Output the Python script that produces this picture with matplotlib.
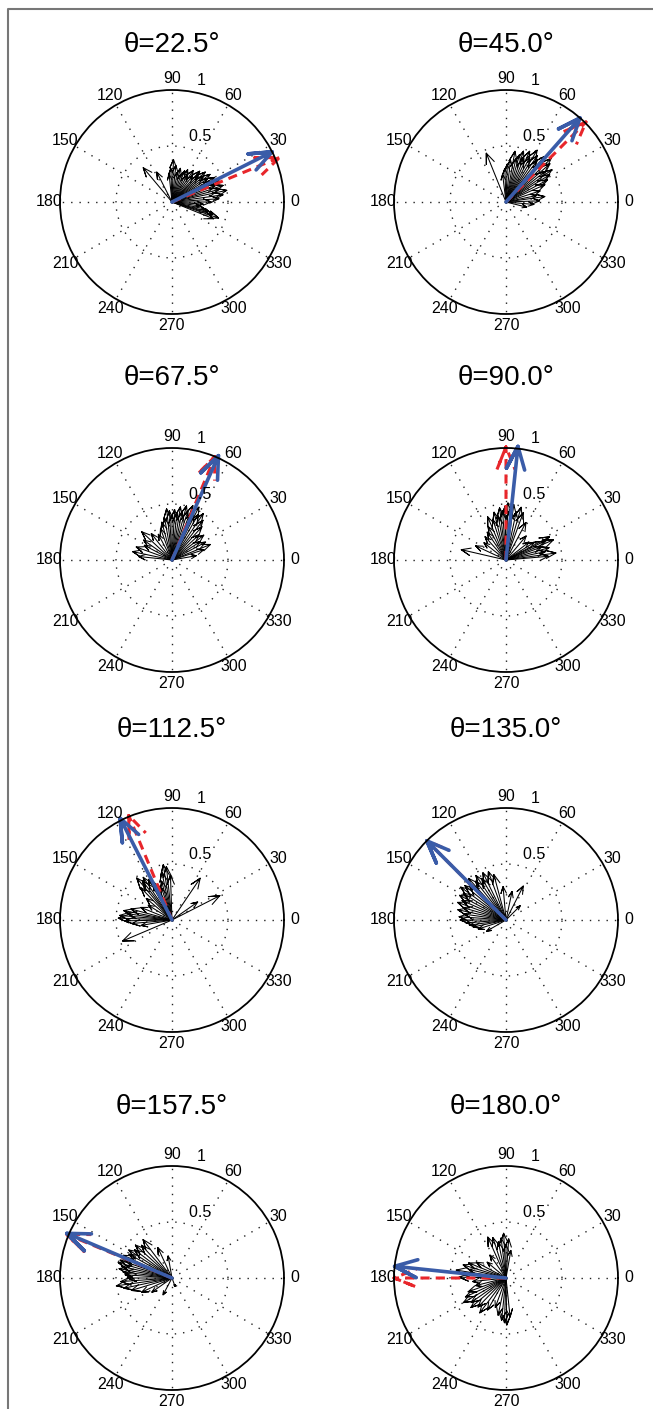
import numpy as np
import matplotlib
matplotlib.use("Agg")
import matplotlib.pyplot as plt
from matplotlib.lines import Line2D

plt.rcParams["font.family"] = ["Liberation Sans", "DejaVu Sans"]

titles = ["θ=22.5°", "θ=45.0°", "θ=67.5°", "θ=90.0°",
          "θ=112.5°", "θ=135.0°", "θ=157.5°", "θ=180.0°"]

# ── single-cell vectors (direction in deg, length) per panel ──
ang_225 = [-22, -19, -17, -15, -12, -8, -4, 0, 4, 8, 12, 15, 18, 21, 24, 27, 30, 33, 36,
           39, 42, 45, 48, 52, 56, 60, 64, 68, 72, 76, 80, 84, 88, 92, 96, 117, 130]
len_225 = [0.40, 0.44, 0.38, 0.33, 0.30, 0.25, 0.28, 0.35, 0.42, 0.46, 0.50, 0.44, 0.48,
           0.42, 0.46, 0.40, 0.44, 0.38, 0.42, 0.36, 0.40, 0.33, 0.37, 0.30, 0.34, 0.28,
           0.32, 0.30, 0.26, 0.31, 0.27, 0.33, 0.38, 0.30, 0.25, 0.30, 0.40]

ang_450 = [-14, -5, 2, 8, 12, 18, 24, 28, 32, 35, 38, 41, 44, 47, 50, 53, 56, 59, 62, 65,
           68, 71, 74, 77, 80, 84, 88, 92, 97, 112]
len_450 = [0.19, 0.25, 0.30, 0.35, 0.28, 0.32, 0.38, 0.42, 0.46, 0.50, 0.44, 0.52, 0.56,
           0.48, 0.53, 0.46, 0.50, 0.54, 0.45, 0.50, 0.42, 0.48, 0.44, 0.40, 0.46, 0.38,
           0.34, 0.30, 0.25, 0.47]

ang_675 = [10, 18, 22, 28, 33, 38, 43, 48, 52, 56, 60, 63, 66, 69, 72, 75, 78, 81, 84, 87,
           90, 93, 96, 100, 105, 110, 118, 128, 137, 145, 152, 160, 168, 174]
len_675 = [0.22, 0.30, 0.37, 0.34, 0.30, 0.36, 0.33, 0.40, 0.45, 0.50, 0.47, 0.53, 0.48,
           0.52, 0.46, 0.50, 0.44, 0.48, 0.42, 0.45, 0.40, 0.44, 0.46, 0.38, 0.35, 0.30,
           0.26, 0.30, 0.37, 0.31, 0.28, 0.34, 0.36, 0.30]

ang_900 = [5, 8, 12, 16, 20, 23, 26, 28, 32, 38, 50, 62, 70, 74, 78, 82, 85, 88, 91, 94,
           97, 100, 104, 108, 113, 118, 124, 132, 142, 155, 167]
len_900 = [0.38, 0.45, 0.36, 0.40, 0.34, 0.46, 0.38, 0.44, 0.30, 0.26, 0.28, 0.38, 0.45,
           0.49, 0.44, 0.50, 0.46, 0.51, 0.48, 0.44, 0.47, 0.40, 0.44, 0.38, 0.42, 0.34,
           0.30, 0.28, 0.25, 0.30, 0.41]

ang_1125 = [27, 35, 56, 92, 96, 99, 102, 105, 108, 112, 116, 120, 124, 127, 130, 134, 140,
            148, 158, 165, 169, 172, 175, 178, 181, 185, 190, 203]
len_1125 = [0.48, 0.28, 0.45, 0.40, 0.48, 0.50, 0.44, 0.36, 0.30, 0.34, 0.38, 0.42, 0.46,
            0.44, 0.49, 0.40, 0.30, 0.25, 0.30, 0.38, 0.44, 0.40, 0.47, 0.48, 0.42, 0.36,
            0.28, 0.48]

ang_1350 = [45, 63, 78, 95, 105, 110, 116, 120, 124, 128, 132, 136, 140, 144, 148, 152,
            156, 160, 164, 168, 172, 176, 180, 184, 188, 192, 198, 210]
len_1350 = [0.18, 0.34, 0.26, 0.30, 0.42, 0.46, 0.47, 0.43, 0.48, 0.44, 0.50, 0.46, 0.48,
            0.50, 0.45, 0.47, 0.43, 0.46, 0.40, 0.44, 0.38, 0.42, 0.41, 0.36, 0.33, 0.30,
            0.26, 0.20]

ang_1575 = [100, 115, 127, 133, 138, 143, 147, 151, 155, 158, 161, 164, 167, 170, 173,
            176, 180, 184, 188, 192, 197, 205, 215, 242, 290]
len_1575 = [0.20, 0.30, 0.43, 0.40, 0.44, 0.42, 0.46, 0.44, 0.48, 0.47, 0.49, 0.50, 0.46,
            0.48, 0.44, 0.42, 0.40, 0.46, 0.50, 0.44, 0.38, 0.30, 0.22, 0.17, 0.08]

ang_1800 = [80, 86, 90, 93, 97, 102, 108, 114, 125, 140, 152, 158, 163, 167, 171, 175, 179,
            186, 194, 200, 205, 210, 215, 220, 226, 233, 240, 250, 258, 264, 268, 271, 276]
len_1800 = [0.25, 0.35, 0.30, 0.40, 0.36, 0.33, 0.38, 0.40, 0.25, 0.22, 0.30, 0.36, 0.40,
            0.34, 0.45, 0.38, 0.42, 0.30, 0.28, 0.36, 0.40, 0.44, 0.38, 0.41, 0.36, 0.39,
            0.33, 0.28, 0.34, 0.38, 0.40, 0.42, 0.35]

# population vector (blue) and true direction (red dashed)
blue_ang = [26.6, 48.6, 66.0, 84.0, 117.0, 135.0, 157.0, 174.0]
blue_len = [1.00, 1.00, 1.02, 1.02, 1.02, 1.00, 1.02, 1.00]
red_ang = [22.5, 45.0, 67.5, 90.0, 112.5, 135.0, 157.5, 180.0]
red_len = [1.04, 1.01, 1.00, 1.01, 1.01, 1.00, 1.02, 1.00]

black_ang = [ang_225, ang_450, ang_675, ang_900, ang_1125, ang_1350, ang_1575, ang_1800]
black_len = [len_225, len_450, len_675, len_900, len_1125, len_1350, len_1575, len_1800]

W, H = 653, 1409
col_x = [172, 506]
row_y = [202, 560, 920, 1278]
title_y = [45, 378, 730, 1107]
R_PX = 112

BLUE = "#3a5ca8"
RED = "#e8262b"


def arrow_path(deg, length):
    # compass-style arrow: shaft plus two head strokes, head 20% of length
    a = np.array([0, 1, .8, 1, .8]) * length
    b = np.array([0, 0, .08, 0, -.08]) * length
    t = np.deg2rad(deg)
    x = a * np.cos(t) - b * np.sin(t)
    y = a * np.sin(t) + b * np.cos(t)
    return np.arctan2(y, x), np.hypot(x, y)


fig = plt.figure(figsize=(W / 100, H / 100), dpi=100)

for i in range(8):
    cx, cy = col_x[i % 2], row_y[i // 2]
    ax = fig.add_axes([(cx - R_PX) / W, 1 - (cy + R_PX) / H, 2 * R_PX / W, 2 * R_PX / H],
                      projection="polar")
    ax.set_ylim(0, 1)
    ax.set_xticks(np.deg2rad(np.arange(0, 360, 30)))
    ax.set_yticks([0.5])
    ax.set_xticklabels([])
    ax.set_yticklabels([])
    ax.tick_params(length=0)
    ax.grid(True, color="#222222", linestyle=(0, (1, 5)), linewidth=1)
    ax.spines["polar"].set_linewidth(1.3)

    for deg in range(0, 360, 30):
        ax.text(np.deg2rad(deg), 1.1, str(deg), ha="center", va="center", fontsize=11.5)
    ax.text(np.deg2rad(82), 0.525, "  0.5", ha="left", va="bottom", fontsize=11.5)
    ax.text(np.deg2rad(82), 1.025, "  1", ha="left", va="bottom", fontsize=11.5)

    for d, l in zip(black_ang[i], black_len[i]):
        th, r = arrow_path(d, l)
        ax.plot(th, r, color="k", lw=0.75, clip_on=False)

    th, r = arrow_path(red_ang[i], red_len[i])
    ax.plot(th, r, color=RED, lw=2.2, linestyle=(0, (3, 2)), clip_on=False)
    th, r = arrow_path(blue_ang[i], blue_len[i])
    ax.plot(th, r, color=BLUE, lw=2.6, clip_on=False, solid_capstyle="round")

    fig.text(cx / W, 1 - title_y[i // 2] / H, titles[i], ha="center", va="center",
             fontsize=20)

# figure frame (top and left edges visible)
fig.add_artist(Line2D([8 / W, 8 / W, 1], [0, 1 - 9 / H, 1 - 9 / H],
                      transform=fig.transFigure, color="#777777", lw=1.5))

fig.savefig("out.png", dpi=100)
